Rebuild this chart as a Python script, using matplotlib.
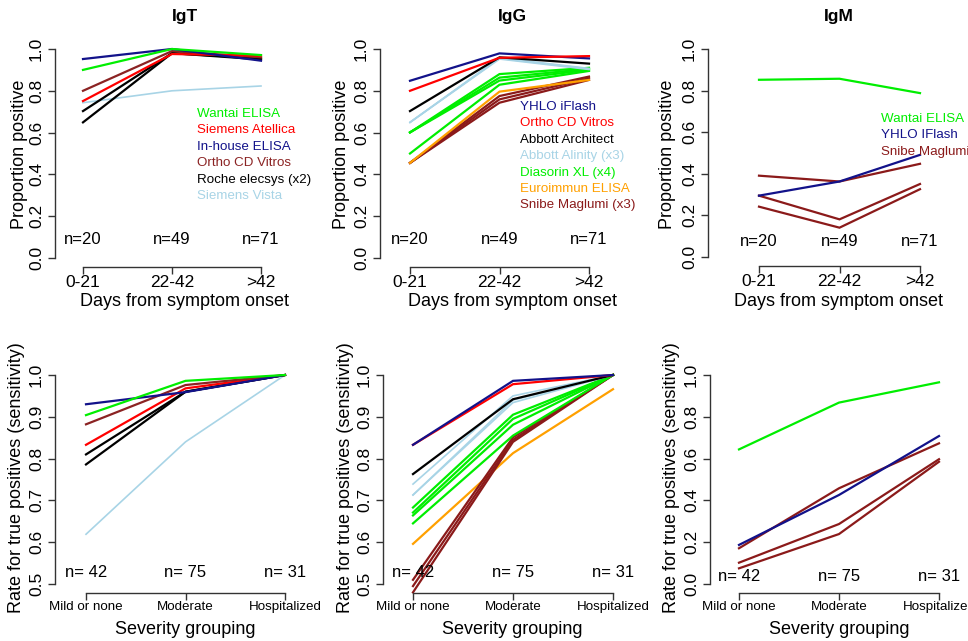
import matplotlib.pyplot as plt
import numpy as np

plt.rcParams['font.family'] = ['Liberation Sans', 'DejaVu Sans']

W, H = 968, 641

GREEN = '#00ee00'
RED = '#ff0000'
NAVY = '#12128a'
BROWN = '#8b2323'
MAROON = '#8b1a1a'
BLACK = '#000000'
LBLUE = '#a8d4e6'
ORANGE = '#ffa000'

# x categories
days = ['0-21', '22-42', '>42']
severity = ['Mild or none', 'Moderate', 'Hospitalized']
n_days = ['n=20', 'n=49', 'n=71']
n_sev = ['n= 42', 'n= 75', 'n= 31']

# ---- proportion positive by days from symptom onset ----
igt_days = np.array([
    [0.743, 0.800, 0.823],   # Siemens Vista
    [0.703, 0.980, 0.955],   # Roche elecsys
    [0.649, 0.980, 0.950],   # Roche elecsys
    [0.800, 0.990, 0.960],   # Ortho CD Vitros
    [0.751, 0.976, 0.968],   # Siemens Atellica
    [0.952, 1.000, 0.944],   # In-house ELISA
    [0.900, 1.000, 0.971],   # Wantai ELISA
])
igt_days_colors = [LBLUE, BLACK, BLACK, BROWN, RED, NAVY, GREEN]

igg_days = np.array([
    [0.455, 0.775, 0.868],   # Snibe Maglumi
    [0.455, 0.759, 0.860],
    [0.455, 0.743, 0.852],
    [0.455, 0.796, 0.852],   # Euroimmun ELISA
    [0.601, 0.880, 0.910],   # Diasorin XL
    [0.601, 0.863, 0.905],
    [0.601, 0.849, 0.900],
    [0.500, 0.829, 0.895],
    [0.649, 0.958, 0.907],   # Abbott Alinity
    [0.649, 0.955, 0.905],
    [0.649, 0.952, 0.902],
    [0.703, 0.960, 0.930],   # Abbott Architect
    [0.848, 0.979, 0.955],   # YHLO iFlash
    [0.800, 0.958, 0.966],   # Ortho CD Vitros
])
igg_days_colors = [MAROON] * 3 + [ORANGE] + [GREEN] * 4 + [LBLUE] * 3 + [BLACK, NAVY, RED]

igm_days = np.array([
    [0.852, 0.857, 0.788],   # Wantai ELISA
    [0.391, 0.363, 0.448],   # Snibe Maglumi
    [0.295, 0.181, 0.351],
    [0.242, 0.141, 0.326],
    [0.295, 0.363, 0.491],   # YHLO iFlash
])
igm_days_colors = [GREEN, MAROON, MAROON, MAROON, NAVY]

# ---- sensitivity by severity grouping ----
igt_sev = np.array([
    [0.619, 0.840, 1.000],   # Siemens Vista
    [0.810, 0.960, 1.000],   # Roche elecsys
    [0.786, 0.960, 1.000],
    [0.833, 0.968, 1.000],   # Siemens Atellica
    [0.882, 0.976, 1.000],   # Ortho CD Vitros
    [0.930, 0.959, 1.000],   # In-house ELISA
    [0.904, 0.986, 1.000],   # Wantai ELISA
])
igt_sev_colors = [LBLUE, BLACK, BLACK, RED, BROWN, NAVY, GREEN]

igg_sev = np.array([
    [0.596, 0.813, 0.966],   # Euroimmun ELISA
    [0.510, 0.851, 1.000],   # Snibe Maglumi
    [0.495, 0.845, 1.000],
    [0.480, 0.840, 1.000],
    [0.683, 0.905, 1.000],   # Diasorin XL
    [0.671, 0.895, 1.000],
    [0.664, 0.881, 1.000],
    [0.645, 0.855, 1.000],
    [0.739, 0.950, 1.000],   # Abbott Alinity
    [0.713, 0.934, 1.000],
    [0.713, 0.940, 1.000],
    [0.763, 0.942, 1.000],   # Abbott Architect
    [0.833, 0.978, 1.000],   # Ortho CD Vitros
    [0.833, 0.986, 1.000],   # YHLO iFlash
])
igg_sev_colors = [ORANGE] + [MAROON] * 3 + [GREEN] * 4 + [LBLUE] * 3 + [BLACK, RED, NAVY]

igm_sev = np.array([
    [0.644, 0.868, 0.965],   # Wantai ELISA
    [0.102, 0.287, 0.597],   # Snibe Maglumi
    [0.075, 0.239, 0.585],
    [0.171, 0.458, 0.673],
    [0.187, 0.426, 0.708],   # YHLO iFlash
])
igm_sev_colors = [GREEN, MAROON, MAROON, MAROON, NAVY]

# legends (text only, coloured like the lines)
igt_legend = ['Wantai ELISA', 'Siemens Atellica', 'In-house ELISA',
              'Ortho CD Vitros', 'Roche elecsys (x2)', 'Siemens Vista']
igt_legend_colors = [GREEN, RED, NAVY, BROWN, BLACK, LBLUE]
igg_legend = ['YHLO iFlash', 'Ortho CD Vitros', 'Abbott Architect',
              'Abbott Alinity (x3)', 'Diasorin XL (x4)', 'Euroimmun ELISA',
              'Snibe Maglumi (x3)']
igg_legend_colors = [NAVY, RED, BLACK, LBLUE, GREEN, ORANGE, MAROON]
igm_legend = ['Wantai ELISA', 'YHLO IFlash', 'Snibe Maglumi']
igm_legend_colors = [GREEN, NAVY, MAROON]

fig = plt.figure(figsize=(W / 100, H / 100), dpi=100)


def fx(px):
    return px / W


def fy(py):
    return 1 - py / H


def place(ax, sx, t1, t3, sy, py_lo, py_hi, v_lo, v_hi):
    # put the R-style detached axes where the reference has them (pixel layout)
    ppx = (t3 - t1) / 2.0
    right = t3 + 30
    ppy = (py_lo - py_hi) / (v_hi - v_lo)
    top = py_hi - 12
    ax.set_position([fx(sx), fy(sy), (right - sx) / W, (sy - top) / H])
    ax.set_xlim(1 - (t1 - sx) / ppx, 3 + (right - t3) / ppx)
    ax.set_ylim(v_lo - (sy - py_lo) / ppy, v_hi + (py_hi - top) / ppy)


def panel(ax, vals, colors, xlabels, yticks, nlab, ny, title, xlab, ylab,
          cx, xlab_y, ylab_x, ylab_y, xtick_size):
    x = np.arange(1, 4)
    for v, c in zip(vals, colors):
        lw = 1.2 if c == LBLUE else 1.6
        ax.plot(x, v, color=c, lw=lw, clip_on=False, solid_joinstyle='miter')
    for side in ['top', 'right']:
        ax.spines[side].set_visible(False)
    for side in ['left', 'bottom']:
        ax.spines[side].set_color('#333333')
        ax.spines[side].set_linewidth(1.0)
    ax.spines['left'].set_bounds(yticks[0], yticks[-1])
    ax.spines['bottom'].set_bounds(1, 3)
    ax.set_xticks(x, xlabels, fontsize=xtick_size)
    ax.set_yticks(yticks, ['%.1f' % t for t in yticks], fontsize=12.5)
    ax.tick_params(axis='y', labelrotation=90, length=5, width=1,
                   color='#333333', pad=3)
    ax.tick_params(axis='x', length=5, width=1, color='#333333', pad=1)
    for lbl in ax.get_yticklabels():
        lbl.set_va('center')
    for xi, t in zip(x, nlab):
        ax.text(xi, ny, t, ha='center', va='center', fontsize=12)
    ax.set_xlabel(xlab, fontsize=13, va='center')
    ax.xaxis.set_label_coords(fx(cx), fy(xlab_y), transform=fig.transFigure)
    ax.set_ylabel(ylab, fontsize=13, va='center')
    ax.yaxis.set_label_coords(fx(ylab_x), fy(ylab_y), transform=fig.transFigure)
    if title:
        ax.text(fx(cx), fy(17), title, transform=fig.transFigure, ha='center',
                va='center', fontsize=12.5, fontweight='bold')


def legend_text(ax, labels, colors, lx, ly, step):
    for i, (t, c) in enumerate(zip(labels, colors)):
        ax.text(fx(lx), fy(ly + i * step), t, color=c, fontsize=9.6,
                ha='left', va='center', transform=fig.transFigure)


top_ticks = np.arange(0, 1.01, 0.2)
sev_ticks = np.arange(0.5, 1.01, 0.1)

ax1 = fig.add_axes([0, 0, 1, 1])
place(ax1, 55, 83, 261, 267, 258, 49, 0.0, 1.0)
panel(ax1, igt_days, igt_days_colors, days, top_ticks, n_days, 0.09, 'IgT',
      'Days from symptom onset', 'Proportion positive', 185, 302, 20, 154, 12.5)
legend_text(ax1, igt_legend, igt_legend_colors, 197, 114, 16.4)

ax2 = fig.add_axes([0, 0, 1, 1])
place(ax2, 380, 410, 589, 267, 258, 49, 0.0, 1.0)
panel(ax2, igg_days, igg_days_colors, days, top_ticks, n_days, 0.09, 'IgG',
      'Days from symptom onset', 'Proportion positive', 512, 302, 342, 154, 12.5)
legend_text(ax2, igg_legend, igg_legend_colors, 520, 107, 16.4)

ax3 = fig.add_axes([0, 0, 1, 1])
place(ax3, 708, 759, 920, 266, 257, 49, 0.0, 1.0)
panel(ax3, igm_days, igm_days_colors, days, top_ticks, n_days, 0.075, 'IgM',
      'Days from symptom onset', 'Proportion positive', 839, 302, 668, 154, 12.5)
legend_text(ax3, igm_legend, igm_legend_colors, 881, 119, 16.4)

ax4 = fig.add_axes([0, 0, 1, 1])
place(ax4, 55, 86, 285, 593, 584, 375, 0.5, 1.0)
panel(ax4, igt_sev, igt_sev_colors, severity, sev_ticks, n_sev, 0.527, None,
      'Severity grouping', 'Rate for true positives (sensitivity)',
      185, 630, 17, 478, 9.6)

ax5 = fig.add_axes([0, 0, 1, 1])
place(ax5, 383, 413, 613, 593, 584, 375, 0.5, 1.0)
panel(ax5, igg_sev, igg_sev_colors, severity, sev_ticks, n_sev, 0.527, None,
      'Severity grouping', 'Rate for true positives (sensitivity)',
      512, 630, 345, 478, 9.6)

ax6 = fig.add_axes([0, 0, 1, 1])
place(ax6, 710, 739, 939, 593, 584, 375, 0.0, 1.0)
panel(ax6, igm_sev, igm_sev_colors, severity, top_ticks, n_sev, 0.034, None,
      'Severity grouping', 'Rate for true positives (sensitivity)',
      839, 630, 672, 478, 9.6)

fig.savefig('out.png', dpi=100)
